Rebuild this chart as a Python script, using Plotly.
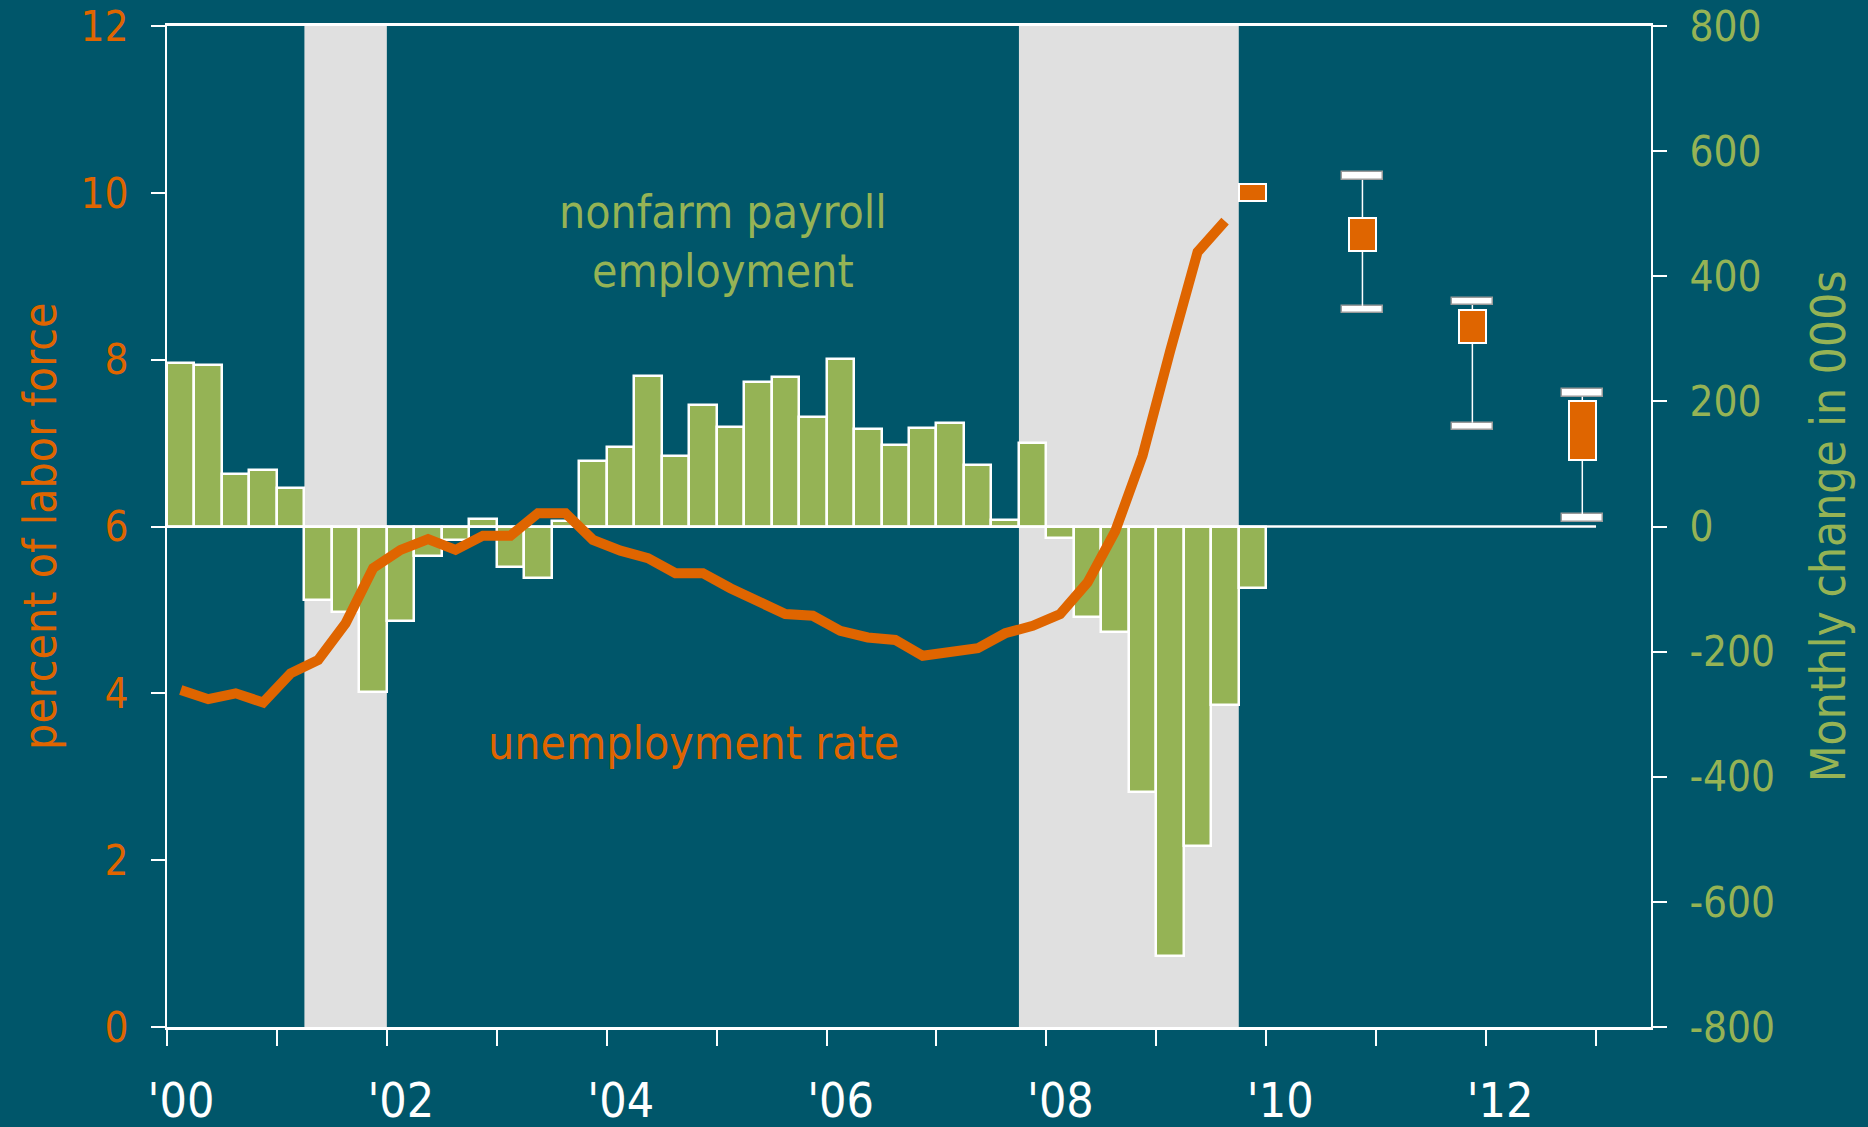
import plotly.graph_objects as go

# ---------------- data ----------------
quarters = [f"{y}Q{q}" for y in range(2000, 2010) for q in range(1, 5)]

payroll = [261, 258, 84, 90,
           61, -117, -136, -264,
           -151, -47, -22, 12,
           -65, -83, 9, 105,
           127, 241, 113, 195,
           159, 231, 239, 175,
           267, 156, 130, 158,
           165, 98, 11, 134,
           -18, -145, -168, -424,
           -687, -511, -286, -98]

unemp_quarters = quarters[:39]
unemployment = [4.04, 3.93, 4.00, 3.89,
                4.24, 4.40, 4.84, 5.50,
                5.72, 5.85, 5.72, 5.89,
                5.89, 6.16, 6.16, 5.84,
                5.71, 5.62, 5.44, 5.44,
                5.26, 5.12, 4.95, 4.93,
                4.75, 4.67, 4.64, 4.45,
                4.51, 4.54, 4.72, 4.81,
                4.95, 5.33, 5.94, 6.85,
                8.10, 9.29, 9.66]

box_quarters = ["2009Q4", "2010Q4", "2011Q4", "2012Q4"]
box_low = [9.9, 9.3, 8.2, 6.8]
box_high = [10.1, 9.7, 8.6, 7.5]

range_quarters = ["2010Q4", "2011Q4", "2012Q4"]
range_low = [8.6, 7.2, 6.1]
range_high = [10.2, 8.7, 7.6]

recessions = [("2001Q2", "2001Q4"), ("2007Q4", "2009Q3")]

year_ticks = list(range(2000, 2014))
year_labels = ["'00", "", "'02", "", "'04", "", "'06", "", "'08", "", "'10", "", "'12", ""]
payroll_ticks = [-800, -600, -400, -200, 0, 200, 400, 600, 800]
payroll_labels = ["-800", "-600", "-400", "-200", "0", "200", "400", "600", "800"]
unemp_ticks = [0, 2, 4, 6, 8, 10, 12]

# ---------------- styles ----------------
BG = "#00566A"
GREEN = "#95B355"
ORANGE = "#DF6500"
GRAY = "#E0E0E0"
WHITE = "#FFFFFF"
FONT = "DejaVu Sans Condensed, DejaVu Sans, sans-serif"
QW = 0.25          # quarter width in years
CAP_W = 0.37
CAP_H = 0.09


def qpos(q):
    """centre of a quarter on a numeric year axis"""
    y, n = q.split("Q")
    return int(y) + (int(n) - 1) * QW + QW / 2


def qstart(q):
    return qpos(q) - QW / 2


def qend(q):
    return qpos(q) + QW / 2


xq = [qpos(q) for q in quarters]
xu = [qpos(q) for q in unemp_quarters]
xb = [qpos(q) for q in box_quarters]
xr = [qpos(q) for q in range_quarters]

fig = go.Figure()

# payroll bars (primary y, right side)
fig.add_trace(go.Bar(
    x=xq, y=payroll, width=QW, yaxis="y",
    marker=dict(color=GREEN, line=dict(color=WHITE, width=2.5)),
    showlegend=False, hoverinfo="skip"))

# zero baseline running through the forecast period
fig.add_trace(go.Scatter(
    x=[qstart(quarters[0]), qend(box_quarters[-1])], y=[0, 0], yaxis="y",
    mode="lines", line=dict(color=WHITE, width=2.5),
    showlegend=False, hoverinfo="skip"))

# unemployment line (secondary y, left side, drawn on top)
fig.add_trace(go.Scatter(
    x=xu, y=unemployment, yaxis="y2", mode="lines",
    line=dict(color=ORANGE, width=10, shape="linear"),
    showlegend=False, hoverinfo="skip"))

# range caps
for vals in (range_high, range_low):
    fig.add_trace(go.Bar(
        x=xr, y=[CAP_H] * len(vals), base=[v - CAP_H / 2 for v in vals],
        width=CAP_W, yaxis="y2",
        marker=dict(color=WHITE, line=dict(color="#9A9A9A", width=1.5)),
        showlegend=False, hoverinfo="skip"))

# central tendency boxes
fig.add_trace(go.Bar(
    x=xb, y=[h - l for l, h in zip(box_low, box_high)], base=box_low,
    width=QW, yaxis="y2",
    marker=dict(color=ORANGE, line=dict(color=WHITE, width=2)),
    showlegend=False, hoverinfo="skip"))

# whiskers
wx, wy = [], []
rmap = {q: i for i, q in enumerate(box_quarters)}
for q, lo, hi in zip(range_quarters, range_low, range_high):
    i = rmap[q]
    c = qpos(q)
    wx += [c, c, None, c, c, None]
    wy += [hi - CAP_H / 2, box_high[i], None, box_low[i], lo + CAP_H / 2, None]
fig.add_trace(go.Scatter(
    x=wx, y=wy, yaxis="y2", mode="lines",
    line=dict(color=WHITE, width=1.5),
    showlegend=False, hoverinfo="skip"))

# recession shading
shapes = []
for a, b in recessions:
    shapes.append(dict(type="rect", xref="x", yref="paper",
                       x0=qstart(a), x1=qend(b), y0=0, y1=1,
                       fillcolor=GRAY, line=dict(width=0), layer="below"))

annotations = [
    dict(text="nonfarm payroll", x=2005.06, y=9.77, xref="x", yref="y2",
         showarrow=False, font=dict(family=FONT, size=46, color=GREEN),
         xanchor="center", yanchor="middle"),
    dict(text="employment", x=2005.06, y=9.06, xref="x", yref="y2",
         showarrow=False, font=dict(family=FONT, size=46, color=GREEN),
         xanchor="center", yanchor="middle"),
    dict(text="unemployment rate", x=2004.79, y=3.40, xref="x", yref="y2",
         showarrow=False, font=dict(family=FONT, size=46, color=ORANGE),
         xanchor="center", yanchor="middle"),
    dict(text="percent of labor force", x=-0.086, y=0.5, xref="paper", yref="paper",
         showarrow=False, textangle=-90,
         font=dict(family=FONT, size=46, color=ORANGE),
         xanchor="center", yanchor="middle"),
    dict(text="Monthly change in 000s", x=1.1198, y=0.5, xref="paper", yref="paper",
         showarrow=False, textangle=-90,
         font=dict(family=FONT, size=47.5, color=GREEN),
         xanchor="center", yanchor="middle"),
]

fig.update_layout(
    width=1868, height=1127,
    paper_bgcolor=BG, plot_bgcolor=BG,
    margin=dict(l=167, r=217, t=26, b=100, autoexpand=False),
    barmode="overlay", bargap=0,
    showlegend=False,
    font=dict(family=FONT),
    shapes=shapes,
    annotations=annotations,
    xaxis=dict(
        range=[2000, 2013.5], tickmode="array", tickvals=year_ticks, ticktext=year_labels,
        ticks="outside", ticklen=16, tickwidth=2, tickcolor=WHITE,
        showline=True, linecolor=WHITE, linewidth=2.5, mirror=True,
        showgrid=False, zeroline=False,
        tickfont=dict(family=FONT, size=48, color=WHITE),
        ticklabelstandoff=14, ticklabelshift=14, automargin=False),
    yaxis=dict(
        side="right", range=[-800, 800], tickmode="array",
        tickvals=payroll_ticks, ticktext=payroll_labels,
        ticks="outside", ticklen=14, tickwidth=2, tickcolor=WHITE,
        showline=True, linecolor=WHITE, linewidth=2,
        showgrid=False, zeroline=False,
        tickfont=dict(family=FONT, size=42, color=GREEN),
        ticklabelstandoff=14, automargin=False),
    yaxis2=dict(
        side="left", overlaying="y", range=[0, 12], tickmode="array",
        tickvals=unemp_ticks,
        ticks="outside", ticklen=14, tickwidth=2, tickcolor=WHITE,
        showline=True, linecolor=WHITE, linewidth=2,
        showgrid=False, zeroline=False,
        tickfont=dict(family=FONT, size=42, color=ORANGE),
        ticklabelstandoff=14, automargin=False),
)

fig.write_html(
    "out.html",
    config={"displayModeBar": False},
    post_script="document.body.style.margin='0';document.body.style.overflow='hidden';",
)
